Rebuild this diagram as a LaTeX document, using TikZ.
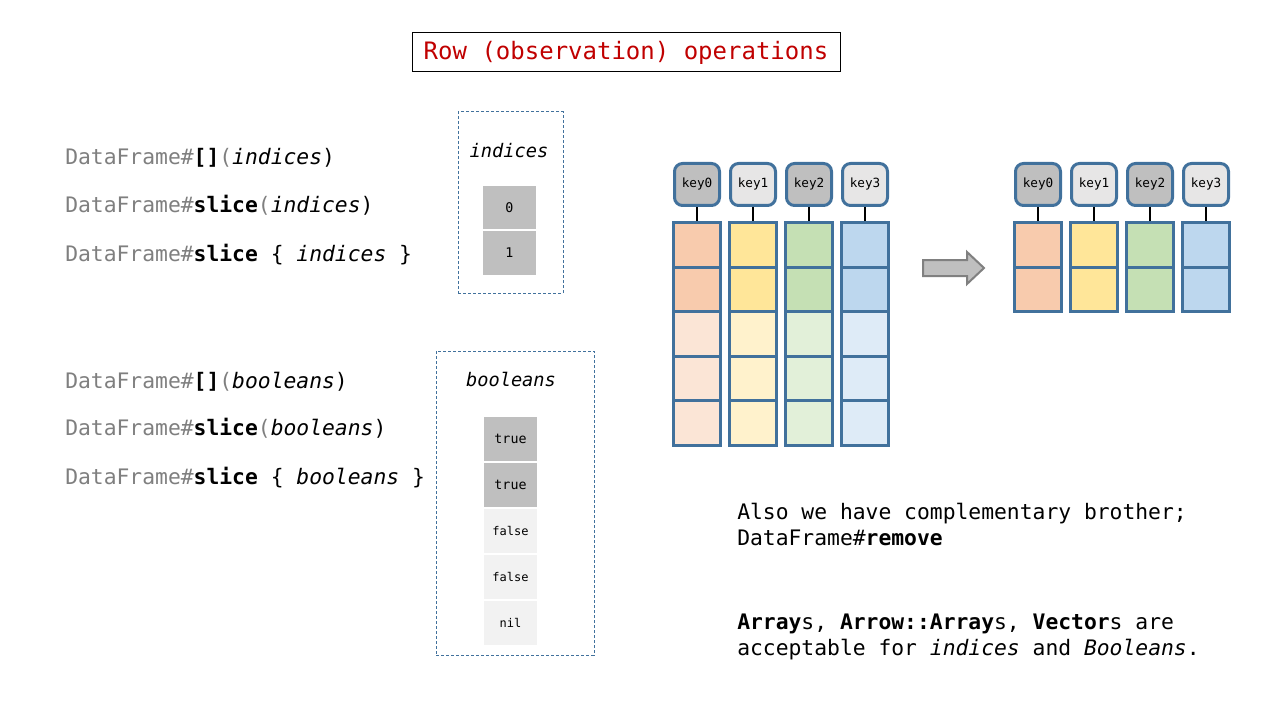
\documentclass[tikz,border=0pt]{standalone}
\usepackage{fontspec}
\setmainfont{DejaVu Sans Mono}[
  ItalicFont={DejaVu Sans Mono Oblique},
  BoldFont={DejaVu Sans Mono Bold},
  BoldItalicFont={DejaVu Sans Mono Bold Oblique}]
\usepackage{tikz}
\tikzset{>=latex}

\definecolor{frame}{HTML}{41719C}
\definecolor{txtgray}{HTML}{7F7F7F}
\definecolor{titlered}{HTML}{C00000}
\definecolor{selgray}{HTML}{BFBFBF}
\definecolor{keylight}{HTML}{E7E6E6}
\definecolor{restgray}{HTML}{F2F2F2}
\definecolor{arrgray}{HTML}{808080}
\definecolor{orgdark}{HTML}{F8CBAD}
\definecolor{orglight}{HTML}{FBE5D6}
\definecolor{ylwdark}{HTML}{FFE699}
\definecolor{ylwlight}{HTML}{FFF2CC}
\definecolor{grndark}{HTML}{C5E0B4}
\definecolor{grnlight}{HTML}{E2F0D9}
\definecolor{bludark}{HTML}{BDD7EE}
\definecolor{blulight}{HTML}{DEEBF7}

\tikzset{
  code/.style={anchor=base west, inner sep=0pt, font=\fontsize{16}{19}\selectfont},
  keybox/.style={draw=frame, line width=2.25pt, rounded corners=6pt,
    minimum width=33.75pt, minimum height=31.5pt, inner sep=0pt,
    font=\fontsize{9.5}{11}\selectfont},
  cell/.style={draw=frame, line width=2.25pt, minimum width=35.25pt,
    minimum height=33.45pt, inner sep=0pt},
  argcell/.style={draw=white, line width=1pt, minimum width=41.25pt,
    minimum height=34pt, inner sep=0pt},
  argbox/.style={draw=frame, dash pattern=on 2.25pt off 1.5pt,
    line width=0.75pt, inner sep=0pt},
  link/.style={line width=1.5pt},
  shiftarrow/.style={draw=arrgray, fill=selgray, line width=1.5pt}
}

\begin{document}
\begin{tikzpicture}[x=0.75pt, y=-0.75pt]
    \useasboundingbox (0,0) rectangle (1280,720);

    % title
    \node [draw, line width=0.75pt, minimum width=321pt, minimum height=29.25pt,
    text=titlered, font=\fontsize{18}{21}\selectfont] (title) at (626, 52.5)
    {\raisebox{-1pt}{Row (observation) operations}};

    % calls taking indices
    \node [code] (idx1) at (65, 165) {\textcolor{txtgray}{DataFrame\#}\textbf{[]}\textcolor{txtgray}{(}\textit{indices})};
    \node [code] (idx2) at (65, 213) {\textcolor{txtgray}{DataFrame\#}\textbf{slice}\textcolor{txtgray}{(}\textit{indices})};
    \node [code] (idx3) at (65, 261) {\textcolor{txtgray}{DataFrame\#}\textbf{slice} \{ \textit{indices} \}};

    \node [argbox, minimum width=78.75pt, minimum height=135.75pt] (idxbox) at (510.5, 202.5) {};
    \node [font=\fontsize{14}{16}\selectfont] (idxlabel) at (509, 151) {\textit{indices}};
    \node [argcell, fill=selgray, minimum height=33.75pt, font=\fontsize{10}{12}\selectfont] (i0) at (509.5, 207.5) {0};
    \node [argcell, fill=selgray, minimum height=33.75pt, font=\fontsize{10}{12}\selectfont] (i1) at (509.5, 253) {1};

    % calls taking booleans
    \node [code] (bool1) at (65, 388) {\textcolor{txtgray}{DataFrame\#}\textbf{[]}\textcolor{txtgray}{(}\textit{booleans})};
    \node [code] (bool2) at (65, 435) {\textcolor{txtgray}{DataFrame\#}\textbf{slice}\textcolor{txtgray}{(}\textit{booleans})};
    \node [code] (bool3) at (65, 484) {\textcolor{txtgray}{DataFrame\#}\textbf{slice} \{ \textit{booleans} \}};

    \node [argbox, minimum width=118.5pt, minimum height=228pt] (boolbox) at (515, 503) {};
    \node [font=\fontsize{14}{16}\selectfont] (boollabel) at (511, 379) {\textit{booleans}};
    \node [argcell, fill=selgray, font=\fontsize{10}{12}\selectfont] (b0) at (510.5, 438.5) {true};
    \node [argcell, fill=selgray, font=\fontsize{10}{12}\selectfont] (b1) at (510.5, 484.5) {true};
    \node [argcell, fill=restgray, font=\fontsize{9}{11}\selectfont] (b2) at (510.5, 530.5) {false};
    \node [argcell, fill=restgray, font=\fontsize{9}{11}\selectfont] (b3) at (510.5, 576.5) {false};
    \node [argcell, fill=restgray, font=\fontsize{9}{11}\selectfont] (b4) at (510.5, 622.5) {nil};

    % source data frame
    \node [keybox, fill=selgray] (k0) at (697, 184.5) {key0};
    \node [keybox, fill=keylight] (k1) at (753, 184.5) {key1};
    \node [keybox, fill=selgray] (k2) at (809, 184.5) {key2};
    \node [keybox, fill=keylight] (k3) at (865, 184.5) {key3};

    \node [cell, fill=orgdark] (c00) at (697, 244.8) {};
    \node [cell, fill=orgdark] (c10) at (697, 289.4) {};
    \node [cell, fill=orglight] (c20) at (697, 334.0) {};
    \node [cell, fill=orglight] (c30) at (697, 378.6) {};
    \node [cell, fill=orglight] (c40) at (697, 423.2) {};

    \node [cell, fill=ylwdark] (c01) at (753, 244.8) {};
    \node [cell, fill=ylwdark] (c11) at (753, 289.4) {};
    \node [cell, fill=ylwlight] (c21) at (753, 334.0) {};
    \node [cell, fill=ylwlight] (c31) at (753, 378.6) {};
    \node [cell, fill=ylwlight] (c41) at (753, 423.2) {};

    \node [cell, fill=grndark] (c02) at (809, 244.8) {};
    \node [cell, fill=grndark] (c12) at (809, 289.4) {};
    \node [cell, fill=grnlight] (c22) at (809, 334.0) {};
    \node [cell, fill=grnlight] (c32) at (809, 378.6) {};
    \node [cell, fill=grnlight] (c42) at (809, 423.2) {};

    \node [cell, fill=bludark] (c03) at (865, 244.8) {};
    \node [cell, fill=bludark] (c13) at (865, 289.4) {};
    \node [cell, fill=blulight] (c23) at (865, 334.0) {};
    \node [cell, fill=blulight] (c33) at (865, 378.6) {};
    \node [cell, fill=blulight] (c43) at (865, 423.2) {};

    \draw [link] (k0) -- (c00);
    \draw [link] (k1) -- (c01);
    \draw [link] (k2) -- (c02);
    \draw [link] (k3) -- (c03);

    % arrow
    \draw [shiftarrow] (923, 260) -- (967, 260) -- (967, 252) -- (984, 268)
    -- (967, 284) -- (967, 276) -- (923, 276) -- cycle;

    % result data frame
    \node [keybox, fill=selgray] (rk0) at (1038, 184.5) {key0};
    \node [keybox, fill=keylight] (rk1) at (1094, 184.5) {key1};
    \node [keybox, fill=selgray] (rk2) at (1150, 184.5) {key2};
    \node [keybox, fill=keylight] (rk3) at (1206, 184.5) {key3};

    \node [cell, fill=orgdark] (rc00) at (1038, 244.8) {};
    \node [cell, fill=orgdark] (rc10) at (1038, 289.4) {};
    \node [cell, fill=ylwdark] (rc01) at (1094, 244.8) {};
    \node [cell, fill=ylwdark] (rc11) at (1094, 289.4) {};
    \node [cell, fill=grndark] (rc02) at (1150, 244.8) {};
    \node [cell, fill=grndark] (rc12) at (1150, 289.4) {};
    \node [cell, fill=bludark] (rc03) at (1206, 244.8) {};
    \node [cell, fill=bludark] (rc13) at (1206, 289.4) {};

    \draw [link] (rk0) -- (rc00);
    \draw [link] (rk1) -- (rc01);
    \draw [link] (rk2) -- (rc02);
    \draw [link] (rk3) -- (rc03);

    % notes
    \node [code] (note1) at (737, 519) {Also we have complementary brother;};
    \node [code] (note2) at (737, 545) {DataFrame\#\textbf{remove}};
    \node [code] (note3) at (737, 629) {\textbf{Array}s, \textbf{Arrow::Array}s, \textbf{Vector}s are};
    \node [code] (note4) at (737, 655) {acceptable for \textit{indices} and \textit{Booleans}.};
\end{tikzpicture}
\end{document}
